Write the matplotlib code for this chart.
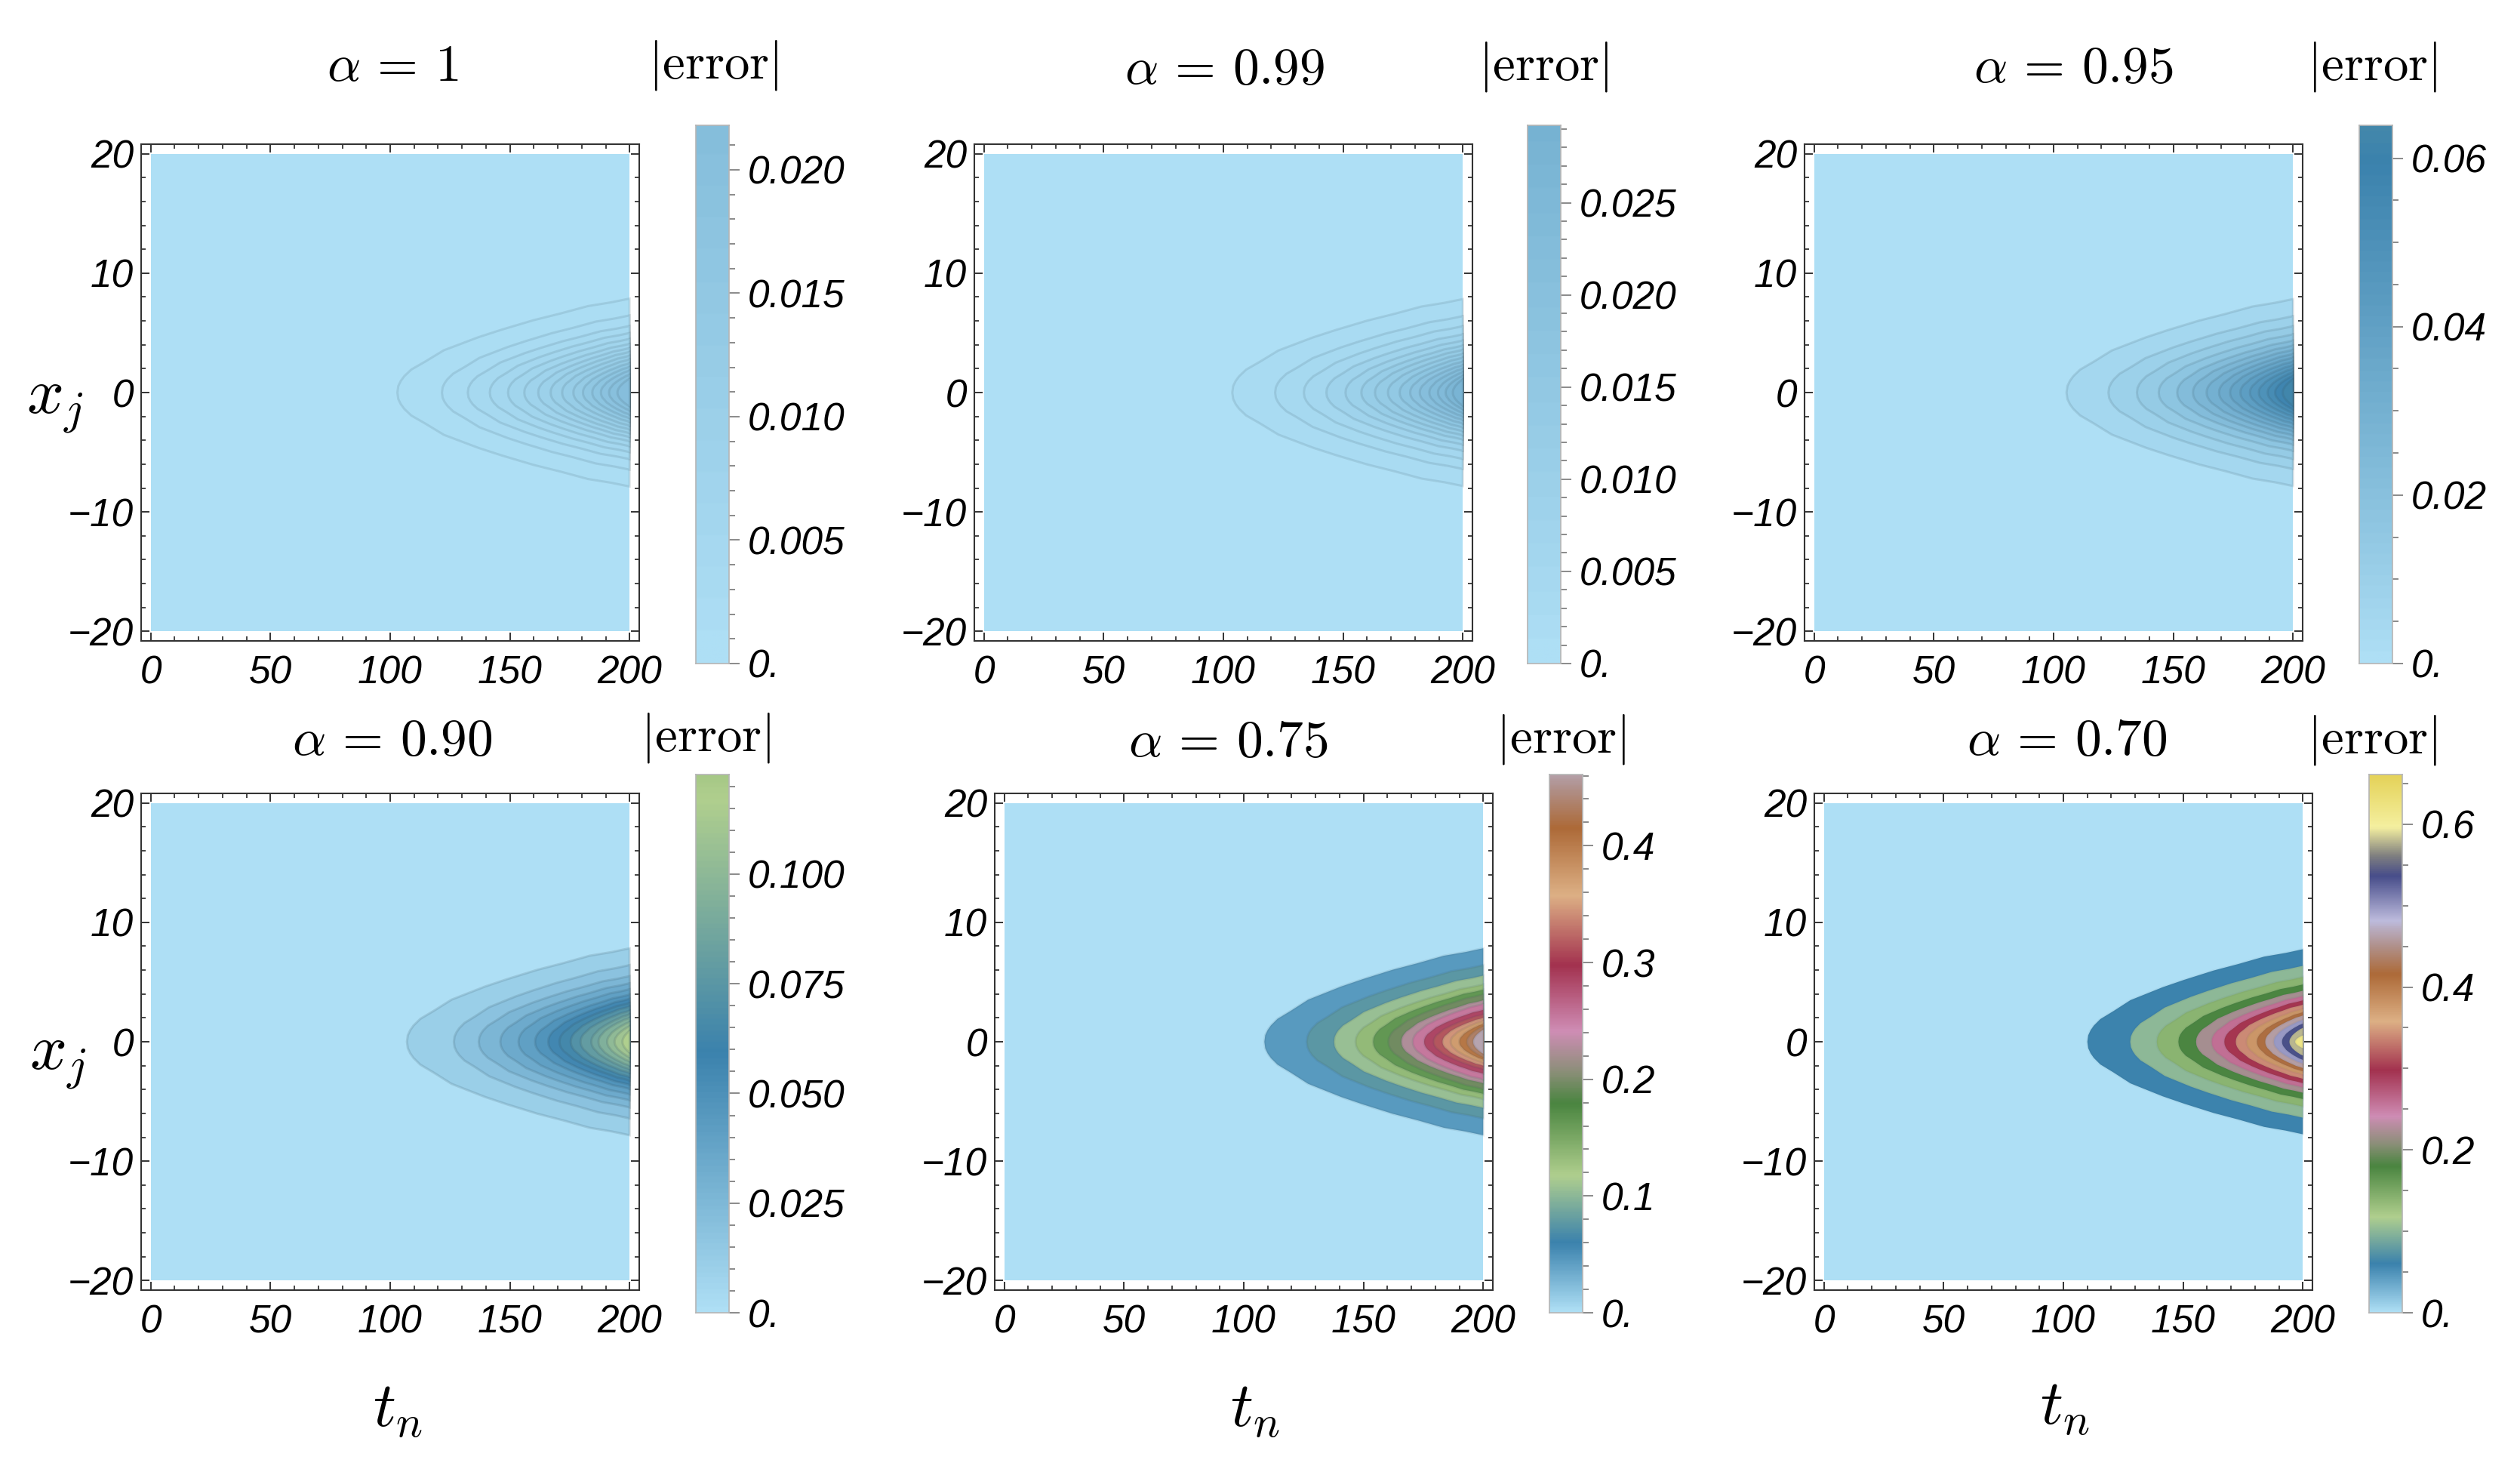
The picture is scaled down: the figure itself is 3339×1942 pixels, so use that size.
import numpy as np
import matplotlib
matplotlib.use("Agg")
import matplotlib.pyplot as plt
from matplotlib.colors import LinearSegmentedColormap
from matplotlib.ticker import FixedLocator, FixedFormatter, NullFormatter

W, H = 3339, 1942

plt.rcParams['font.family'] = ['Liberation Sans', 'DejaVu Sans']
plt.rcParams['mathtext.fontset'] = 'cm'

scale_vals = [0, .059, .1165, .179, .206, .241, .298, .358, .416, .45, .483, .538, .563, .598, .66]
scale_cols = ['#AEDFF5', '#3B82AD', '#B0CF8E', '#4A8540', '#8B8F78', '#CF8DB5', '#A3324F', '#DDB085',
              '#AD6A38', '#B0908A', '#BDBBDD', '#474D8A', '#808080', '#F5F0A0', '#E5D35A']
VMAX = 0.66

titles = [r'$\alpha\,=\,1$', r'$\alpha\,=\,0.99$', r'$\alpha\,=\,0.95$',
          r'$\alpha\,=\,0.90$', r'$\alpha\,=\,0.75$', r'$\alpha\,=\,0.70$']

# outline of a contour: share of the way from tip to t=200, share of edge half width
outline_u = [0, .004, .015, .03, .06, .12, .2, .35, .45, .586, .7, .82, .92, 1]
outline_f = [0, .07, .125, .175, .245, .33, .45, .59, .67, .77, .84, .92, .96, 1]

# t where each contour crosses x=0
tips_1 = [103, 121.6, 132.4, 141.6, 149.2, 156, 161.8, 167, 171.8, 176.5, 180.5, 184.4, 188, 191.4, 194.9]
tips_2 = [103.7, 121.6, 133.6, 143, 151, 157.6, 163.3, 168.7, 173.6, 178, 182, 186, 189.6, 192.8, 195.8]
tips_3 = [105.4, 122.9, 134.8, 143.9, 151.6, 158.2, 163.9, 169.1, 173.7, 178, 182, 185.7, 189.4, 192.5, 195.7]
tips_4 = [107, 126.6, 137, 146, 153.6, 160.5, 166, 170.7, 175.4, 179.5, 184, 187, 190.6, 193.7, 197]
tips_5 = [108.6, 126.3, 137.7, 146.7, 154, 160.4, 165.8, 170.6, 175.3, 179.3, 183, 186.4, 190, 193.2, 195.8]
tips_6 = [110, 127.9, 139, 148, 155.4, 161.9, 167.2, 172, 176.5, 180.8, 184.3, 187.9, 191.3, 194.4, 196.8]

# half width of each contour at t=200
edges_1 = [7.87, 6.46, 5.58, 4.99, 4.5, 4.08, 3.73, 3.41, 3.09, 2.78, 2.46, 2.15, 1.85, 1.5, 1.15]
edges_2 = [7.83, 6.4, 5.56, 4.88, 4.36, 3.94, 3.58, 3.24, 2.93, 2.6, 2.3, 2.0, 1.7, 1.4, 1.1]
edges_3 = [7.83, 6.4, 5.56, 4.88, 4.36, 3.94, 3.58, 3.24, 2.93, 2.6, 2.3, 2.0, 1.7, 1.4, 1.1]
edges_4 = [7.83, 6.42, 5.5, 4.9, 4.4, 3.95, 3.6, 3.25, 2.95, 2.6, 2.3, 2.0, 1.65, 1.3, .9]
edges_5 = [7.83, 6.42, 5.54, 4.8, 4.36, 3.96, 3.47, 3.16, 2.67, 2.27, 2.0, 1.74, 1.5, 1.27, 1.0]
edges_6 = [7.75, 6.36, 5.43, 4.8, 4.27, 3.83, 3.47, 3.1, 2.74, 2.48, 2.2, 1.83, 1.52, 1.16, .53]

tips = [tips_1, tips_2, tips_3, tips_4, tips_5, tips_6]
edges = [edges_1, edges_2, edges_3, edges_4, edges_5, edges_6]
steps = [.00135, .0018, .004, .0075, .03, .04]   # spacing of the contour levels

# colour bars
bar_tops = [.0218, .0292, .0639, .1227, .461, .661]
bar_major = [[0, .005, .010, .015, .020],
             [0, .005, .010, .015, .020, .025],
             [0, .02, .04, .06],
             [0, .025, .050, .075, .100],
             [0, .1, .2, .3, .4],
             [0, .2, .4, .6]]
bar_labels = [['0.', '0.005', '0.010', '0.015', '0.020'],
              ['0.', '0.005', '0.010', '0.015', '0.020', '0.025'],
              ['0.', '0.02', '0.04', '0.06'],
              ['0.', '0.025', '0.050', '0.075', '0.100'],
              ['0.', '0.1', '0.2', '0.3', '0.4'],
              ['0.', '0.2', '0.4', '0.6']]
bar_minor = [.001, .001, .005, .005, .02, .05]

x_ticks = [0, 50, 100, 150, 200]
x_labels = ['0', '50', '100', '150', '200']
y_ticks = [-20, -10, 0, 10, 20]
y_labels = ['\u221220', '\u221210', '0', '10', '20']

# layout in pixels of the reference
frame_left = [187, 1291, 2391, 187, 1318, 2404]
frame_top = [191, 191, 191, 1051, 1051, 1051]
FRAME_W, FRAME_H = 660, 658
bar_left = [922, 2024, 3126, 922, 2053, 3139]
bar_top = [166, 166, 166, 1026, 1026, 1026]
BAR_W, BAR_H = 44, 713
title_xy = [(520, 89), (1623, 93), (2747, 91), (520, 982), (1627, 984), (2739, 982)]
err_xy = [(945, 87), (2045, 89), (3143, 89), (935, 977), (2068, 979), (3143, 980)]
line_alpha = [.13, .13, .14, .16, .1, .05]

cmap = LinearSegmentedColormap.from_list('err', [(v / VMAX, c) for v, c in zip(scale_vals, scale_cols)], N=512)
col = lambda v: cmap(v / VMAX)


def to_fig(x, y):
    return x / W, 1 - y / H


def axes_px(fig, left, top, w, h):
    return fig.add_axes([left / W, 1 - (top + h) / H, w / W, h / H])


fig = plt.figure(figsize=(W / 100, H / 100), dpi=100, facecolor='white')

for i in range(6):
    ax = axes_px(fig, frame_left[i], frame_top[i], FRAME_W, FRAME_H)
    ax.set_xlim(-4, 204)
    ax.set_ylim(-20.8, 20.8)
    # domain, lowest band
    ax.fill([0, 200, 200, 0], [-20, -20, 20, 20], color=col(0), lw=0)
    for k, (tip, edge) in enumerate(zip(tips[i], edges[i])):
        t = [tip + (200 - tip) * u for u in outline_u]
        x = [edge * f for f in outline_f]
        tt = t[::-1] + t[1:]
        xx = x[::-1] + [-v for v in x[1:]]
        ax.fill(tt, xx, facecolor=col((k + 1.5) * steps[i]),
                edgecolor=(.2, .3, .35, line_alpha[i]), lw=2.2, joinstyle='miter')
    ax.set_xticks(x_ticks)
    ax.set_xticklabels(x_labels, fontsize=37, style='italic')
    ax.set_yticks(y_ticks)
    ax.set_yticklabels(y_labels, fontsize=37, style='italic')
    ax.xaxis.set_minor_locator(FixedLocator(np.arange(0, 201, 10)))
    ax.yaxis.set_minor_locator(FixedLocator(np.arange(-20, 21, 2)))
    ax.tick_params(which='major', direction='in', length=8, width=1.4, color='#333333',
                   top=True, right=True)
    ax.tick_params(which='minor', direction='in', length=4.5, width=1.4, color='#444444',
                   top=True, right=True)
    ax.tick_params(axis='x', which='major', pad=13)
    ax.tick_params(axis='y', which='major', pad=7)
    for s in ax.spines.values():
        s.set_linewidth(1.5)
        s.set_color('#333333')

    # colour bar, only the part of the scale this panel reaches
    cax = axes_px(fig, bar_left[i], bar_top[i], BAR_W, BAR_H)
    ramp = np.linspace(0, bar_tops[i], 256).reshape(-1, 1)
    cax.imshow(ramp, cmap=cmap, vmin=0, vmax=VMAX, origin='lower', aspect='auto',
               extent=[0, 1, 0, bar_tops[i]])
    cax.set_xticks([])
    cax.yaxis.tick_right()
    cax.yaxis.set_major_locator(FixedLocator(bar_major[i]))
    cax.yaxis.set_major_formatter(FixedFormatter(bar_labels[i]))
    minor = np.arange(0, bar_tops[i], bar_minor[i])
    cax.yaxis.set_minor_locator(FixedLocator(minor))
    cax.yaxis.set_minor_formatter(NullFormatter())
    cax.tick_params(which='major', direction='out', length=10, width=1.4, color='#8a8a8a',
                    labelsize=37, pad=8)
    cax.tick_params(which='minor', direction='out', length=6, width=1.4, color='#8a8a8a')
    for lab in cax.get_yticklabels():
        lab.set_style('italic')
    for s in cax.spines.values():
        s.set_linewidth(1.2)
        s.set_color('#b5b5b5')

    tx, ty = to_fig(*title_xy[i])
    fig.text(tx, ty, titles[i], fontsize=50, ha='center', va='center')
    ex, ey = to_fig(*err_xy[i])
    fig.text(ex, ey, r'$|\mathrm{error}|$', fontsize=48, ha='center', va='center')

for xy in [(73, 537), (77, 1406)]:
    fx, fy = to_fig(*xy)
    fig.text(fx, fy, r'$x_j$', fontsize=62, ha='center', va='center')
for xy in [(527, 1868), (1663, 1868), (2736, 1865)]:
    fx, fy = to_fig(*xy)
    fig.text(fx, fy, r'$t_n$', fontsize=60, ha='center', va='center')

fig.savefig('out.png', dpi=100)
